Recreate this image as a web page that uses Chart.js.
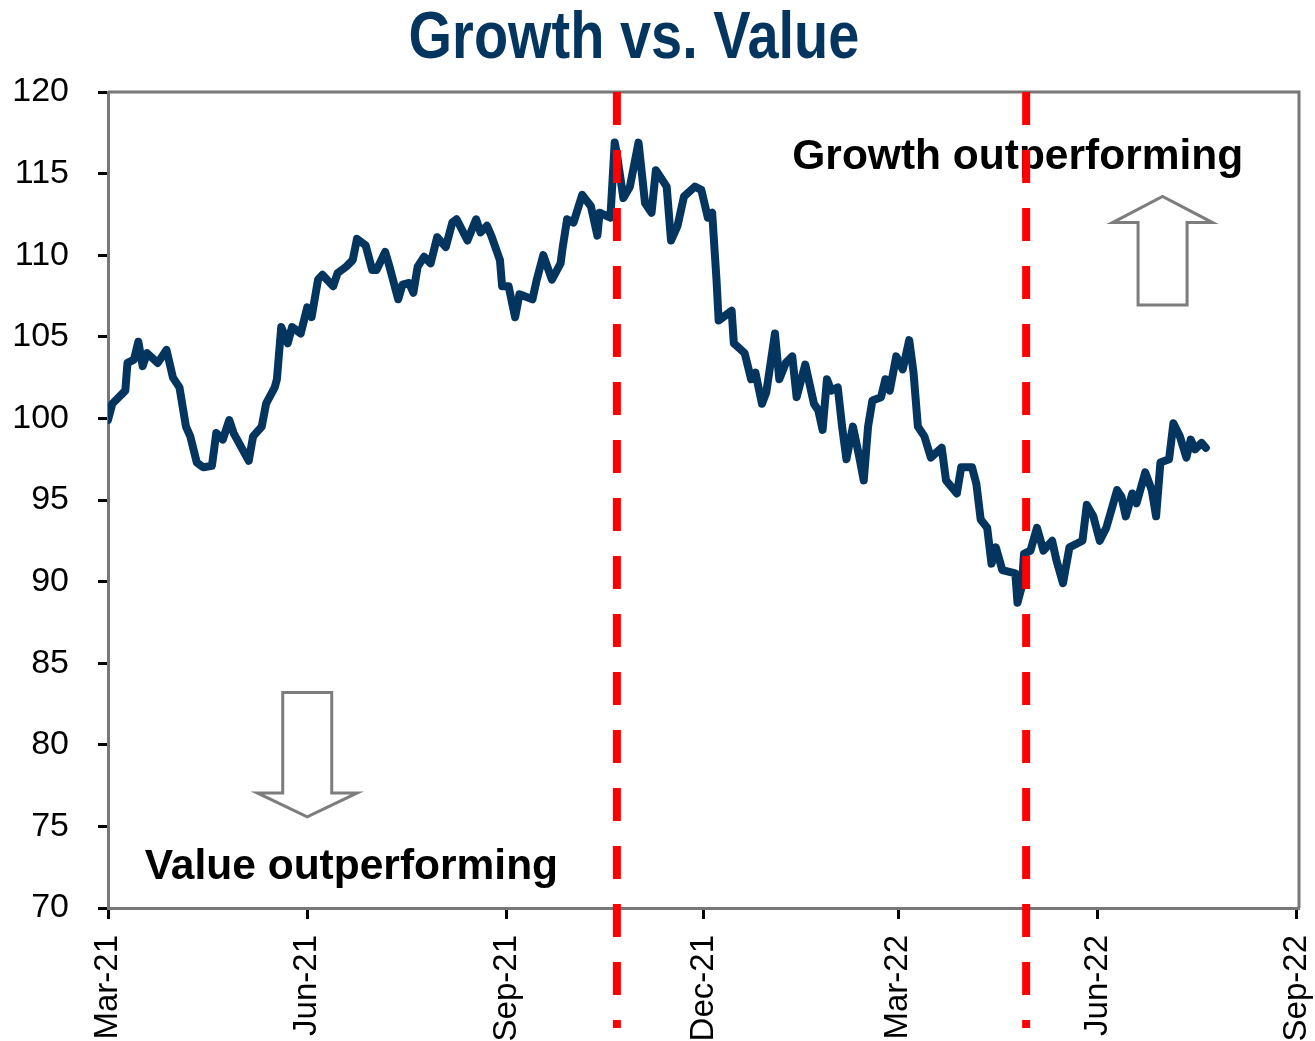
<!DOCTYPE html>
<html><head><meta charset="utf-8">
<script src="https://cdn.jsdelivr.net/npm/chart.js@4"></script>
<style>html,body{margin:0;padding:0;background:#fff}canvas{display:block}</style>
</head><body>
<canvas id="c" width="1315" height="1041"></canvas>
<script>
const chartTitle = 'Growth vs. Value';
const dates = [
'2021-03-01','2021-03-03','2021-03-09','2021-03-10','2021-03-13','2021-03-15','2021-03-17','2021-03-19','2021-03-24','2021-03-28','2021-03-31',
'2021-04-03','2021-04-06','2021-04-08','2021-04-11','2021-04-14','2021-04-18','2021-04-20','2021-04-23','2021-04-26','2021-04-28',
'2021-05-05','2021-05-07','2021-05-11','2021-05-13','2021-05-17','2021-05-18','2021-05-20','2021-05-23','2021-05-25','2021-05-29',
'2021-06-01','2021-06-03','2021-06-06','2021-06-08','2021-06-13','2021-06-15','2021-06-19','2021-06-22','2021-06-24','2021-06-28',
'2021-07-01','2021-07-03','2021-07-07','2021-07-09','2021-07-13','2021-07-15','2021-07-18','2021-07-20','2021-07-22','2021-07-25','2021-07-28','2021-07-31',
'2021-08-04','2021-08-07','2021-08-09','2021-08-14','2021-08-18','2021-08-20','2021-08-23','2021-08-25','2021-08-29','2021-08-30',
'2021-09-02','2021-09-05','2021-09-07','2021-09-13','2021-09-15','2021-09-18','2021-09-22','2021-09-26','2021-09-27','2021-09-29',
'2021-10-02','2021-10-06','2021-10-10','2021-10-13','2021-10-14','2021-10-19','2021-10-21','2021-10-22','2021-10-25','2021-10-28',
'2021-11-01','2021-11-04','2021-11-07','2021-11-09','2021-11-14','2021-11-16','2021-11-19','2021-11-22','2021-11-27','2021-11-30',
'2021-12-03','2021-12-05','2021-12-07','2021-12-08','2021-12-14','2021-12-15','2021-12-20','2021-12-23','2021-12-25','2021-12-28','2021-12-30',
'2022-01-03','2022-01-05','2022-01-08','2022-01-11','2022-01-13','2022-01-17','2022-01-21','2022-01-23','2022-01-25','2022-01-27','2022-01-29',
'2022-02-01','2022-02-03','2022-02-05','2022-02-08','2022-02-11','2022-02-13','2022-02-15','2022-02-17','2022-02-21','2022-02-23','2022-02-25','2022-02-28',
'2022-03-03','2022-03-06','2022-03-08','2022-03-10','2022-03-13','2022-03-16','2022-03-21','2022-03-23','2022-03-28','2022-03-30',
'2022-04-04','2022-04-06','2022-04-08','2022-04-11','2022-04-13','2022-04-15','2022-04-18','2022-04-24','2022-04-25','2022-04-27','2022-04-28',
'2022-05-01','2022-05-04','2022-05-07','2022-05-11','2022-05-13','2022-05-16','2022-05-19','2022-05-25','2022-05-27','2022-05-30',
'2022-06-02','2022-06-05','2022-06-10','2022-06-12','2022-06-14','2022-06-17','2022-06-19','2022-06-23','2022-06-26','2022-06-28','2022-06-30',
'2022-07-04','2022-07-06','2022-07-09','2022-07-12','2022-07-14','2022-07-16','2022-07-19','2022-07-21'
];
const values = [
99.9,100.9,101.7,103.4,103.6,104.7,103.2,104.0,103.4,104.2,102.5,
101.9,99.5,98.9,97.3,97.0,97.1,99.1,98.7,99.9,99.1,
97.4,98.9,99.5,100.9,101.9,102.4,105.6,104.6,105.6,105.2,
106.8,106.2,108.5,108.8,108.1,108.9,109.3,109.7,111.0,110.6,
109.1,109.1,110.2,109.3,107.3,108.2,108.3,107.7,109.3,109.9,109.5,111.1,
110.5,112.0,112.2,110.9,112.2,111.4,111.8,111.2,109.7,108.1,
108.1,106.2,107.6,107.3,108.5,110.0,108.5,109.5,110.5,112.2,
112.0,113.7,113.0,111.2,112.6,112.3,116.9,116.2,113.5,114.2,
116.9,113.2,112.6,115.2,114.2,110.9,111.8,113.6,114.2,114.0,
112.3,112.6,108.5,106.0,106.6,104.6,104.0,102.4,102.8,100.9,101.6,
105.2,102.4,103.4,103.8,101.3,103.3,100.9,100.5,99.3,102.4,101.7,
101.9,99.5,97.5,99.5,97.6,96.2,99.5,101.1,101.3,102.4,101.7,103.8,
103.0,104.8,102.8,99.5,98.9,97.6,98.2,96.2,95.4,97.0,
97.0,96.0,93.8,93.3,91.1,92.1,90.7,90.5,88.7,89.7,91.7,
91.9,93.3,91.9,92.5,91.3,89.9,92.1,92.5,94.7,94.0,
92.5,93.3,95.6,95.2,94.0,95.4,94.8,96.7,95.6,94.0,97.3,
97.5,99.7,98.9,97.6,98.7,98.1,98.5,98.2
];
const tickDates = ['2021-03-01','2021-06-01','2021-09-01','2021-12-01','2022-03-01','2022-06-01','2022-09-01'];
const tickLabels = ['Mar-21','Jun-21','Sep-21','Dec-21','Mar-22','Jun-22','Sep-22'];
const axisStartDate = '2021-03-01';
const axisEndDate = '2022-09-02';
const yMin = 70, yMax = 120, yStep = 5;
const eventDates = ['2021-10-22','2022-04-29'];
const noteTexts = ['Growth outperforming','Value outperforming'];
const noteDates = ['2022-01-11','2021-03-18'];
const noteValues = [115.3, 71.8];
const arrowDates = ['2022-07-01','2021-06-01'];
const arrowTail = [106.95, 83.2];
const arrowHeadBase = [112.0, 77.05];
const arrowTip = [113.6, 75.58];

const FONT = '"Liberation Sans", Arial, Helvetica, sans-serif';
const NAVY = '#04355f';
const base = Date.UTC(2021, 2, 1);
function dayOf(s) { const p = s.split('-').map(Number); return (Date.UTC(p[0], p[1]-1, p[2]) - base) / 86400000; }

const points = dates.map((d, i) => ({ x: dayOf(d), y: values[i] }));

const titlePlugin = {
  id: 'titleText',
  afterDraw(chart) {
    const ctx = chart.ctx;
    ctx.save();
    ctx.font = 'bold 67px ' + FONT;
    ctx.fillStyle = NAVY;
    ctx.textAlign = 'center';
    ctx.textBaseline = 'alphabetic';
    ctx.translate(634, 58);
    ctx.scale(0.835, 1);
    ctx.fillText(chartTitle, 0, 0);
    ctx.restore();
  }
};

const framePlugin = {
  id: 'frame',
  beforeDatasetsDraw(chart) {
    const { ctx, chartArea: a } = chart;
    ctx.save();
    ctx.strokeStyle = '#777777';
    ctx.lineWidth = 3;
    ctx.beginPath();
    ctx.moveTo(a.left, a.top);
    ctx.lineTo(a.right, a.top);
    ctx.lineTo(a.right, a.bottom);
    ctx.stroke();
    ctx.restore();
  }
};

const notesPlugin = {
  id: 'notes',
  beforeDatasetsDraw(chart) {
    const ctx = chart.ctx, xs = chart.scales.x, ys = chart.scales.y;
    ctx.save();
    const halfShaft = 24.5, halfHead = 50;
    arrowDates.forEach((d, i) => {
      const cx = xs.getPixelForValue(dayOf(d));
      const yT = ys.getPixelForValue(arrowTail[i]);
      const yB = ys.getPixelForValue(arrowHeadBase[i]);
      const yP = ys.getPixelForValue(arrowTip[i]);
      ctx.beginPath();
      ctx.moveTo(cx - halfShaft, yT);
      ctx.lineTo(cx - halfShaft, yB);
      ctx.lineTo(cx - halfHead, yB);
      ctx.lineTo(cx, yP);
      ctx.lineTo(cx + halfHead, yB);
      ctx.lineTo(cx + halfShaft, yB);
      ctx.lineTo(cx + halfShaft, yT);
      ctx.closePath();
      ctx.fillStyle = '#ffffff';
      ctx.fill();
      ctx.strokeStyle = '#7d7d7d';
      ctx.lineWidth = 3;
      ctx.lineJoin = 'miter';
      ctx.stroke();
    });
    ctx.font = 'bold 42.5px ' + FONT;
    ctx.fillStyle = '#000000';
    ctx.textAlign = 'left';
    ctx.textBaseline = 'alphabetic';
    noteTexts.forEach((t, i) => {
      ctx.fillText(t, xs.getPixelForValue(dayOf(noteDates[i])), ys.getPixelForValue(noteValues[i]));
    });
    ctx.restore();
  }
};

const eventPlugin = {
  id: 'events',
  afterDatasetsDraw(chart) {
    const ctx = chart.ctx, xs = chart.scales.x, a = chart.chartArea;
    ctx.save();
    ctx.strokeStyle = '#ff0000';
    ctx.lineWidth = 8;
    ctx.setLineDash([33, 25]);
    ctx.lineCap = 'butt';
    eventDates.forEach(d => {
      const x = xs.getPixelForValue(dayOf(d));
      ctx.beginPath();
      ctx.moveTo(x, a.top);
      ctx.lineTo(x, chart.height - 13);
      ctx.stroke();
    });
    ctx.restore();
  }
};

new Chart(document.getElementById('c'), {
  type: 'line',
  data: {
    datasets: [{
      data: points,
      borderColor: NAVY,
      borderWidth: 8,
      pointRadius: 0,
      tension: 0,
      borderJoinStyle: 'round',
      borderCapStyle: 'round',
      fill: false
    }]
  },
  options: {
    responsive: false,
    animation: false,
    layout: { padding: { top: 92, right: 16, left: 0, bottom: 0 } },
    plugins: { legend: { display: false }, tooltip: { enabled: false }, title: { display: false } },
    scales: {
      x: {
        type: 'linear',
        min: dayOf(axisStartDate),
        max: dayOf(axisEndDate),
        afterBuildTicks(s) { s.ticks = tickDates.map(d => ({ value: dayOf(d) })); },
        afterFit(s) { s.height = 133; s.paddingLeft = 0; s.paddingRight = 0; },
        ticks: {
          autoSkip: false, minRotation: 90, maxRotation: 90,
          font: { family: FONT, size: 33 }, color: '#000000', padding: 16,
          callback: (v, i) => tickLabels[i]
        },
        grid: { drawOnChartArea: false, drawTicks: true, tickLength: 11, tickWidth: 3, tickColor: '#000000' },
        border: { display: true, color: '#777777', width: 3 }
      },
      y: {
        type: 'linear',
        min: yMin, max: yMax,
        afterFit(s) { s.width = 108; s.paddingTop = 0; s.paddingBottom = 0; },
        ticks: { stepSize: yStep, font: { family: FONT, size: 34 }, color: '#000000', padding: 29 },
        grid: { drawOnChartArea: false, drawTicks: true, tickLength: 10, tickWidth: 3, tickColor: '#000000' },
        border: { display: true, color: '#777777', width: 3 }
      }
    }
  },
  plugins: [titlePlugin, framePlugin, notesPlugin, eventPlugin]
});
</script>
</body></html>
